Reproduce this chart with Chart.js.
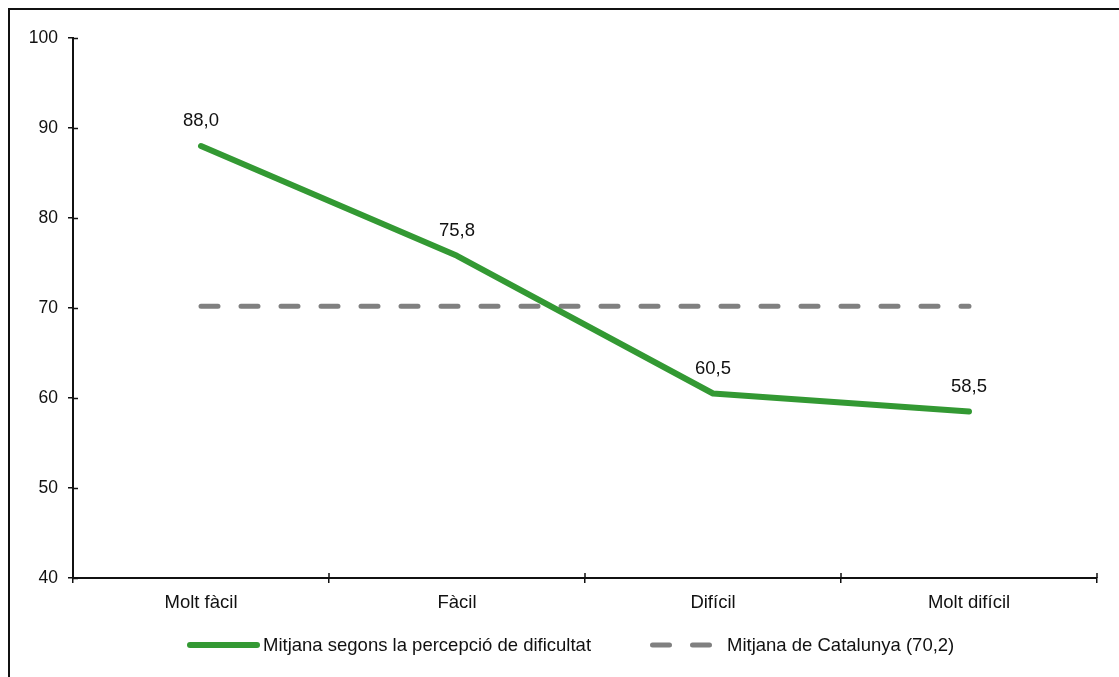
<!DOCTYPE html>
<html>
<head>
<meta charset="utf-8">
<script src="https://cdn.jsdelivr.net/npm/chart.js@4.4.1/dist/chart.umd.min.js"></script>
<style>
  html, body { margin: 0; padding: 0; background: #fff; overflow: hidden; }
  #wrap { position: relative; width: 1119px; height: 677px; }
  #frame {
    position: absolute; left: 8px; top: 8px; width: 1200px; height: 800px;
    border: 2px solid #111; box-sizing: border-box; pointer-events: none;
  }
  #chart { position: absolute; left: 0; top: 0; }
  .legend {
    position: absolute; top: 634px; height: 22px; font-family: "Liberation Sans", Arial, sans-serif;
    font-size: 18.5px; color: #111; display: flex; align-items: center; white-space: nowrap;
  }
  .legend svg { display: block; }
</style>
</head>
<body>
<div id="wrap">
  <canvas id="chart" width="1119" height="677"></canvas>
  <div id="frame"></div>
  <div class="legend" style="left:184px">
    <svg width="78" height="22"><line x1="6" y1="11" x2="73" y2="11" stroke="#339933" stroke-width="6" stroke-linecap="round"/></svg>
    <span style="margin-left:1px">Mitjana segons la percepció de dificultat</span>
  </div>
  <div class="legend" style="left:646px">
    <svg width="72" height="22"><line x1="6.5" y1="11" x2="66" y2="11" stroke="#808080" stroke-width="5" stroke-linecap="round" stroke-dasharray="17 23"/></svg>
    <span style="margin-left:9px">Mitjana de Catalunya (70,2)</span>
  </div>
</div>
<script>
const categories = ["Molt fàcil", "Fàcil", "Difícil", "Molt difícil"];
const perceptionValues = [88.0, 75.8, 60.5, 58.5];
const catalunyaValues = [70.2, 70.2, 70.2, 70.2];
const yTicks = [40, 50, 60, 70, 80, 90, 100];

const FONT = "'Liberation Sans', Arial, sans-serif";

// petites marques creuades als eixos i etiquetes de valor
const extrasPlugin = {
  id: "extras",
  afterDraw(chart) {
    const ctx = chart.ctx;
    const x = chart.scales.x;
    const y = chart.scales.y;
    ctx.save();
    ctx.strokeStyle = "#111";
    ctx.lineWidth = 1.5;
    ctx.beginPath();
    yTicks.forEach((v) => {
      const py = Math.round(y.getPixelForValue(v)) + 0.5;
      ctx.moveTo(x.left, py);
      ctx.lineTo(x.left + 5, py);
    });
    for (let i = 1; i <= categories.length; i++) {
      const px = Math.round(x.getPixelForValue(i - 0.5));
      ctx.moveTo(px, y.bottom);
      ctx.lineTo(px, y.bottom - 5);
    }
    ctx.stroke();

    const meta = chart.getDatasetMeta(0);
    ctx.fillStyle = "#111";
    ctx.font = "18.5px " + FONT;
    ctx.textAlign = "center";
    ctx.textBaseline = "middle";
    meta.data.forEach((pt, i) => {
      const txt = perceptionValues[i].toFixed(1).replace(".", ",");
      ctx.fillText(txt, pt.x, pt.y - 25);
    });
    ctx.restore();
  },
};

new Chart(document.getElementById("chart").getContext("2d"), {
  type: "line",
  data: {
    labels: categories,
    datasets: [
      {
        label: "Mitjana segons la percepció de dificultat",
        data: perceptionValues,
        borderColor: "#339933",
        borderWidth: 6,
        borderCapStyle: "round",
        borderJoinStyle: "round",
        pointRadius: 0,
        tension: 0,
      },
      {
        label: "Mitjana de Catalunya (70,2)",
        data: catalunyaValues,
        borderColor: "#808080",
        borderWidth: 5,
        borderDash: [17, 23],
        borderCapStyle: "round",
        pointRadius: 0,
        tension: 0,
      },
    ],
  },
  options: {
    responsive: false,
    animation: false,
    layout: { padding: { left: 0, right: 22, top: 38, bottom: 59 } },
    plugins: {
      legend: { display: false },
      tooltip: { enabled: false },
    },
    scales: {
      x: {
        offset: true,
        grid: { offset: true, drawOnChartArea: false, color: "#111", lineWidth: 1.5, tickLength: 5 },
        border: { color: "#111", width: 2 },
        ticks: { color: "#111", font: { family: FONT, size: 18.5 }, padding: 9, autoSkip: false, maxRotation: 0 },
        afterFit(scale) { scale.height = 40; },
      },
      y: {
        min: 40,
        max: 100,
        afterBuildTicks(scale) { scale.ticks = yTicks.map((v) => ({ value: v })); },
        grid: { drawOnChartArea: false, color: "#111", lineWidth: 1.5, tickLength: 5 },
        border: { color: "#111", width: 2 },
        ticks: { color: "#111", font: { family: FONT, size: 17.5 }, padding: 10 },
        afterFit(scale) { scale.width = 73; },
      },
    },
  },
  plugins: [extrasPlugin],
});
</script>
</body>
</html>
